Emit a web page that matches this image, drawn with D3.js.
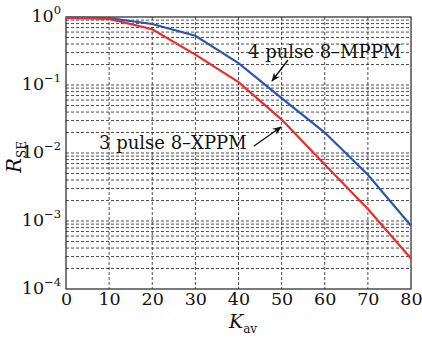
<!DOCTYPE html>
<html>
<head>
<meta charset="utf-8">
<script src="https://cdn.jsdelivr.net/npm/d3@7/dist/d3.min.js"></script>
<style>
  body { margin: 0; background: #fff; }
  svg text { font-family: "DejaVu Serif", "Liberation Serif", serif; fill: #111; }
</style>
</head>
<body>
<div id="chart"></div>
<script>
// K_av values (x axis)
const kav = [0, 10, 20, 30, 40, 50, 60, 70, 80];

// R_SE for 4 pulse 8-MPPM (blue)
const mppm = [0.98, 0.96, 0.79, 0.53, 0.21, 0.064, 0.020, 0.0048, 0.00085];

// R_SE for 3 pulse 8-XPPM (red)
const xppm = [0.97, 0.94, 0.66, 0.28, 0.11, 0.031, 0.0068, 0.0015, 0.00028];

const xTicks = [0, 10, 20, 30, 40, 50, 60, 70, 80];
const yExponents = [0, -1, -2, -3, -4];

const width = 422, height = 338;
const margin = { top: 17, right: 11, bottom: 49, left: 66 };
const innerW = width - margin.left - margin.right;
const innerH = height - margin.top - margin.bottom;

const svg = d3.select("#chart").append("svg")
    .attr("width", width)
    .attr("height", height);

const g = svg.append("g")
    .attr("transform", "translate(" + margin.left + "," + margin.top + ")");

const x = d3.scaleLinear().domain([0, 80]).range([0, innerW]);
const y = d3.scaleLog().domain([1e-4, 1]).range([innerH, 0]);

// minor grid values: 1..9 of each decade
const gridVals = [];
for (let e = -4; e < 0; e++) {
    for (let m = 1; m <= 9; m++) gridVals.push(m * Math.pow(10, e));
}

// horizontal dashed grid
g.selectAll(".hgrid")
    .data(gridVals.filter(v => v > 1e-4))
    .enter().append("line")
    .attr("class", "hgrid")
    .attr("x1", 0).attr("x2", innerW)
    .attr("y1", d => y(d)).attr("y2", d => y(d))
    .attr("stroke", "#222")
    .attr("stroke-width", 0.8)
    .attr("stroke-dasharray", "3,2");

// vertical dashed grid
g.selectAll(".vgrid")
    .data(xTicks.filter(v => v > 0 && v < 80))
    .enter().append("line")
    .attr("class", "vgrid")
    .attr("x1", d => x(d)).attr("x2", d => x(d))
    .attr("y1", 0).attr("y2", innerH)
    .attr("stroke", "#222")
    .attr("stroke-width", 0.8)
    .attr("stroke-dasharray", "3,2");

// x axis
const xAxis = d3.axisBottom(x).tickValues(xTicks).tickSize(0).tickPadding(4);
g.append("g")
    .attr("transform", "translate(0," + innerH + ")")
    .call(xAxis)
    .call(a => a.select(".domain").remove())
    .selectAll("text")
    .attr("font-size", 17.5)
    .attr("font-family", "DejaVu Serif")
    .attr("fill", "#111");

// y tick labels with superscripts
const yl = g.append("g");
yExponents.forEach(e => {
    const t = yl.append("text")
        .attr("x", -5)
        .attr("y", y(Math.pow(10, e)) + 5)
        .attr("text-anchor", "end")
        .attr("font-size", 17.5);
    t.append("tspan").text("10");
    t.append("tspan")
        .attr("font-size", 11.5)
        .attr("dy", -8)
        .text(e === 0 ? "0" : "\u2212" + (-e));
});

// frame
g.append("rect")
    .attr("width", innerW).attr("height", innerH)
    .attr("fill", "none")
    .attr("stroke", "#222")
    .attr("stroke-width", 1.2);

// series lines
const line = d3.line()
    .x((d, i) => x(kav[i]))
    .y(d => y(d));

g.append("path").datum(mppm)
    .attr("d", line)
    .attr("fill", "none")
    .attr("stroke", "#2a56ad")
    .attr("stroke-width", 2.2);

g.append("path").datum(xppm)
    .attr("d", line)
    .attr("fill", "none")
    .attr("stroke", "#ee2b2b")
    .attr("stroke-width", 2.2);

// annotations
svg.append("defs").append("marker")
    .attr("id", "arr")
    .attr("viewBox", "0 0 10 10")
    .attr("refX", 9).attr("refY", 5)
    .attr("markerWidth", 7).attr("markerHeight", 7)
    .attr("orient", "auto")
    .append("path")
    .attr("d", "M0,1 L10,5 L0,9 L3,5 Z")
    .attr("fill", "#111");

function annotate(label, tx, ty, x1, y1, x2, y2) {
    svg.append("text")
        .attr("x", tx).attr("y", ty)
        .attr("font-size", 18)
        .text(label);
    svg.append("line")
        .attr("x1", x1).attr("y1", y1)
        .attr("x2", x2).attr("y2", y2)
        .attr("stroke", "#111")
        .attr("stroke-width", 1.3)
        .attr("marker-end", "url(#arr)");
}
annotate("4 pulse 8\u2013MPPM", 248, 58, 288, 60, 272, 81);
annotate("3 pulse 8\u2013XPPM", 99, 149, 254, 146, 281, 127);

// axis titles
const xt = svg.append("text")
    .attr("x", 243).attr("y", 328)
    .attr("text-anchor", "middle")
    .attr("font-size", 19);
xt.append("tspan").attr("font-style", "italic").text("K");
xt.append("tspan").attr("font-size", 12).attr("dy", 5).text("av");

const yt = svg.append("text")
    .attr("transform", "translate(21,157) rotate(-90)")
    .attr("text-anchor", "middle")
    .attr("font-size", 20);
yt.append("tspan").attr("font-style", "italic").text("R");
yt.append("tspan").attr("font-size", 12).attr("dy", 5).text("SE");
</script>
</body>
</html>
